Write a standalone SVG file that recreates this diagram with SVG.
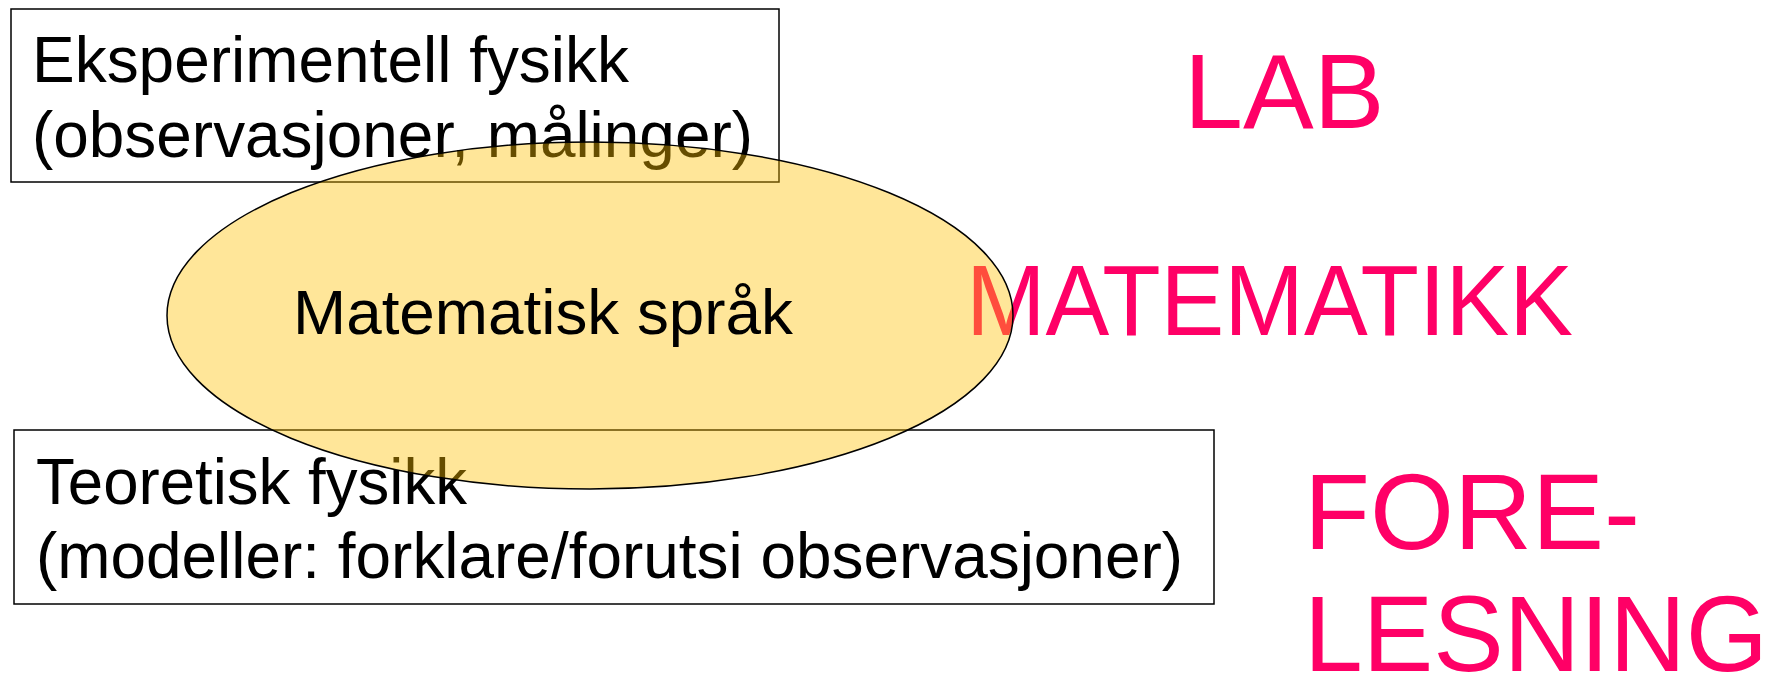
<svg xmlns="http://www.w3.org/2000/svg" width="1783" height="673" viewBox="0 0 1783 673">
<style>
.box{fill:#fff;stroke:#000;stroke-width:1.5}
.t{font-family:"Liberation Sans",Arial,sans-serif;fill:#000}
.big{font-family:"Liberation Sans",Arial,sans-serif;fill:#FF0066}
.ell{fill:#FFC000;fill-opacity:0.4;stroke:#000;stroke-width:1.5}
</style>
<rect width="1783" height="673" fill="#fff"/>
<g id="node-eksperimentell">
<rect class="box" x="11" y="9" width="768" height="173"/>
<text class="t" x="32" y="82" font-size="64" textLength="597" lengthAdjust="spacingAndGlyphs">Eksperimentell fysikk</text>
<text class="t" x="32" y="157" font-size="64" textLength="721" lengthAdjust="spacingAndGlyphs">(observasjoner, målinger)</text>
</g>
<g id="node-teoretisk">
<rect class="box" x="14" y="430" width="1200" height="174"/>
<text class="t" x="36" y="504" font-size="64" textLength="431" lengthAdjust="spacingAndGlyphs">Teoretisk fysikk</text>
<text class="t" x="36" y="578" font-size="64" textLength="1147" lengthAdjust="spacingAndGlyphs">(modeller: forklare/forutsi observasjoner)</text>
</g>
<g id="node-lab">
<text class="big" x="1184" y="128" font-size="106">LAB</text>
</g>
<g id="node-matematikk">
<text class="big" x="966" y="335" font-size="100" textLength="607" lengthAdjust="spacingAndGlyphs">MATEMATIKK</text>
</g>
<g id="node-forelesning">
<text class="big" x="1304" y="549" font-size="108">FORE-</text>
<text class="big" x="1304" y="671" font-size="108" textLength="464" lengthAdjust="spacingAndGlyphs">LESNING</text>
</g>
<g id="node-matematisk-sprak">
<ellipse class="ell" cx="590" cy="315.5" rx="423" ry="173.5"/>
<text class="t" x="293" y="334" font-size="63" textLength="500" lengthAdjust="spacingAndGlyphs">Matematisk språk</text>
</g>
<g id="connectors"></g>
</svg>
